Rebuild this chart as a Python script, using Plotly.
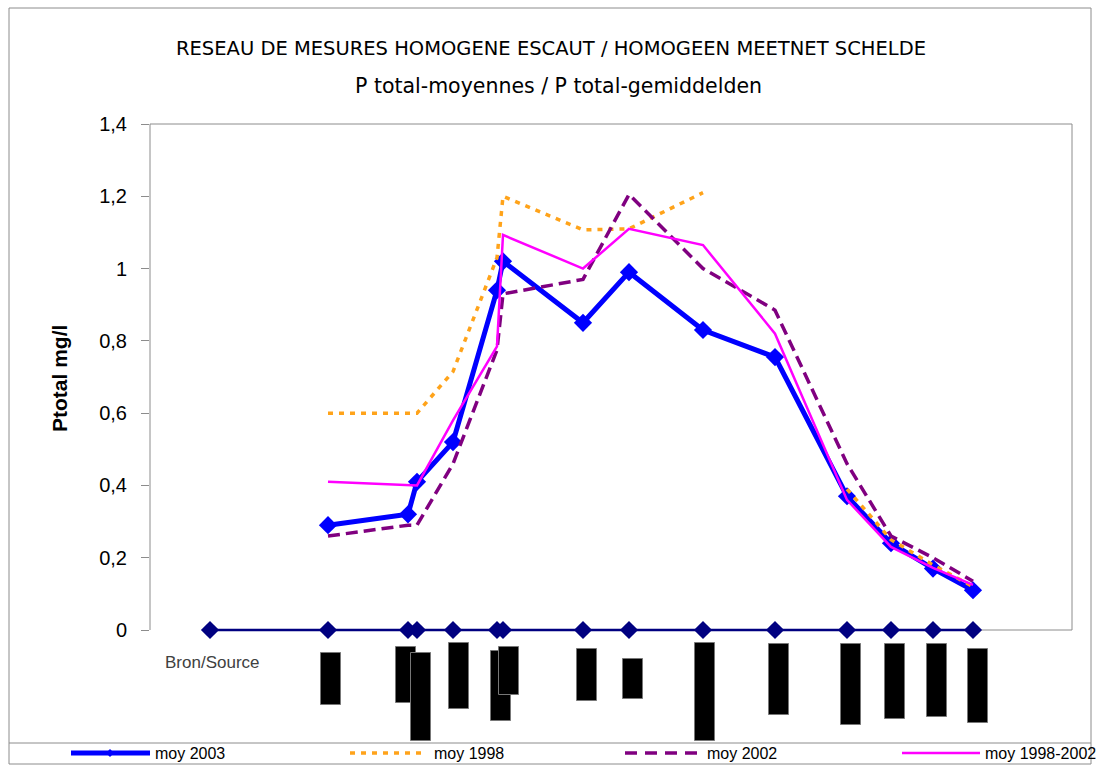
import plotly.graph_objects as go

# ---------------- data ----------------
stations_x = [60, 178, 258, 267, 303, 347, 353, 433, 479, 553, 625, 697, 741, 783, 823]
moy_2003 = [None, 0.29, 0.32, 0.41, 0.52, 0.94, 1.02, 0.85, 0.99, 0.83, 0.755, 0.37, 0.24, 0.17, 0.11]
moy_1998 = [None, 0.60, 0.60, 0.60, 0.715, 1.03, 1.20, 1.107, 1.11, 1.21, None, 0.39, 0.25, 0.18, 0.12]
moy_2002 = [None, 0.26, 0.29, 0.29, 0.46, 0.775, 0.93, 0.97, 1.205, 1.00, 0.885, 0.46, 0.26, 0.20, 0.135]
moy_1998_2002 = [None, 0.41, 0.40, 0.40, 0.58, 0.785, 1.093, 1.00, 1.11, 1.065, 0.82, 0.36, 0.23, 0.172, 0.125]
source_line = [0] * 15

bar_x = [181, 255.5, 271, 309, 351, 359, 437, 483, 555, 629, 701, 745, 787, 827.5]
bar_top = [-0.064, -0.047, -0.064, -0.036, -0.058, -0.047, -0.053, -0.080, -0.036, -0.039, -0.039, -0.039, -0.039, -0.053]
bar_bottom = [-0.208, -0.202, -0.307, -0.219, -0.252, -0.180, -0.196, -0.191, -0.307, -0.235, -0.263, -0.246, -0.241, -0.257]

y_ticks = [0, 0.2, 0.4, 0.6, 0.8, 1.0, 1.2, 1.4]
y_tick_text = ["0", "0,2", "0,4", "0,6", "0,8", "1", "1,2", "1,4"]

title1 = "RESEAU DE MESURES HOMOGENE ESCAUT / HOMOGEEN MEETNET SCHELDE"
title2 = "P total-moyennes / P total-gemiddelden"
legend_names = ["moy 2003", "moy 1998", "moy 2002", "moy 1998-2002"]

# ---------------- layout geometry ----------------
W, H = 1099, 766
L, R, T, B = 150, 1072, 124, 743
YMIN = -(B - 630) / ((630 - T) / 1.4)


def px_x(p):
    return (p - L) / (R - L)


def px_y(p):
    return (B - p) / (B - T)


BLUE = "#0000FF"
NAVY = "#000080"
ORANGE = "#FFA31A"
PURPLE = "#800080"
MAGENTA = "#FF00FF"
GRAY = "#8C8C8C"
FONT = "Liberation Sans, Arial, sans-serif"

fig = go.Figure()

fig.add_trace(go.Bar(
    x=bar_x, y=[t - b for t, b in zip(bar_top, bar_bottom)], base=bar_bottom,
    width=20, marker=dict(color="black", line=dict(color="#777777", width=1)),
    showlegend=False, hoverinfo="skip"))

fig.add_trace(go.Scatter(
    x=stations_x, y=source_line, mode="lines+markers",
    line=dict(color=NAVY, width=2.5),
    marker=dict(symbol="diamond", size=14, color=NAVY),
    showlegend=False, cliponaxis=False))

fig.add_trace(go.Scatter(
    x=stations_x, y=moy_2003, mode="lines+markers", name=legend_names[0],
    line=dict(color=BLUE, width=5),
    marker=dict(symbol="diamond", size=14, color=BLUE),
    showlegend=False))

fig.add_trace(go.Scatter(
    x=stations_x, y=moy_1998, mode="lines", name=legend_names[1],
    line=dict(color=ORANGE, width=3.5, dash="5px,6px"),
    showlegend=False))

fig.add_trace(go.Scatter(
    x=stations_x, y=moy_2002, mode="lines", name=legend_names[2],
    line=dict(color=PURPLE, width=3.5, dash="12px,6px"),
    showlegend=False))

fig.add_trace(go.Scatter(
    x=stations_x, y=moy_1998_2002, mode="lines", name=legend_names[3],
    line=dict(color=MAGENTA, width=2.5),
    showlegend=False))

shapes = []


def pline(x0, y0, x1, y1, color=GRAY, width=1, dash=None, layer="above"):
    d = dict(type="line", xref="paper", yref="paper",
             x0=px_x(x0), y0=px_y(y0), x1=px_x(x1), y1=px_y(y1),
             line=dict(color=color, width=width), layer=layer)
    if dash:
        d["line"]["dash"] = dash
    shapes.append(d)


# outer border and legend box
pline(9, 8, 1091, 8)
pline(9, 8, 9, 764)
pline(1091, 8, 1091, 764)
pline(9, 764, 1091, 764)
pline(9, 743, 1091, 743)
# plot frame
pline(150, 124, 1072, 124)
pline(150, 124, 150, 630)
pline(1072, 124, 1072, 630)
pline(210, 630, 1072, 630, layer="below")

# legend samples
LY = 753
pline(71, LY, 150, LY, color=BLUE, width=5)
pline(350, LY, 427, LY, color=ORANGE, width=3.5, dash="5px,6px")
pline(625, LY, 700, LY, color=PURPLE, width=3.5, dash="12px,8px")
pline(902, LY, 980, LY, color=MAGENTA, width=2.5)
shapes.append(dict(type="path", xref="paper", yref="paper",
                   path=f"M {px_x(110)},{px_y(LY-4)} L {px_x(114)},{px_y(LY)} L {px_x(110)},{px_y(LY+4)} L {px_x(106)},{px_y(LY)} Z",
                   fillcolor=BLUE, line=dict(color=BLUE, width=0)))

annotations = []


def ptext(x, y, text, size, xanchor="left", color="black", family=FONT, angle=0):
    annotations.append(dict(x=px_x(x), y=px_y(y), xref="paper", yref="paper",
                            text=text, showarrow=False, xanchor=xanchor, yanchor="middle",
                            textangle=angle,
                            font=dict(size=size, color=color, family=family)))


TFONT = "DejaVu Sans, Verdana, sans-serif"
ptext(551, 48, title1, 19.5, xanchor="center", family=TFONT)
ptext(558, 86, title2, 20.5, xanchor="center", family=TFONT)
ptext(59, 379, "<b>Ptotal mg/l</b>", 21, xanchor="center", angle=-90)
ptext(163, 662, "Bron/Source", 17, color="#404040")
for x, name in zip([153, 432, 705, 983], legend_names):
    ptext(x, LY, name, 16)

fig.update_layout(
    width=W, height=H,
    margin=dict(l=L, r=W - R, t=T, b=H - B, pad=0),
    paper_bgcolor="white", plot_bgcolor="white",
    showlegend=False, bargap=0,
    shapes=shapes, annotations=annotations,
    xaxis=dict(range=[0, R - L], visible=False, fixedrange=True),
    yaxis=dict(range=[YMIN, 1.4], tickvals=y_ticks, ticktext=y_tick_text,
               ticks="outside", ticklen=8, tickcolor=GRAY, tickwidth=1,
               showgrid=False, zeroline=False, showline=False,
               tickfont=dict(size=20, color="black", family=FONT),
               ticklabelstandoff=10, fixedrange=True),
)

fig.write_html("out.html", config={"displayModeBar": False},
               post_script="document.body.style.margin='0px';document.body.style.overflow='hidden';")
